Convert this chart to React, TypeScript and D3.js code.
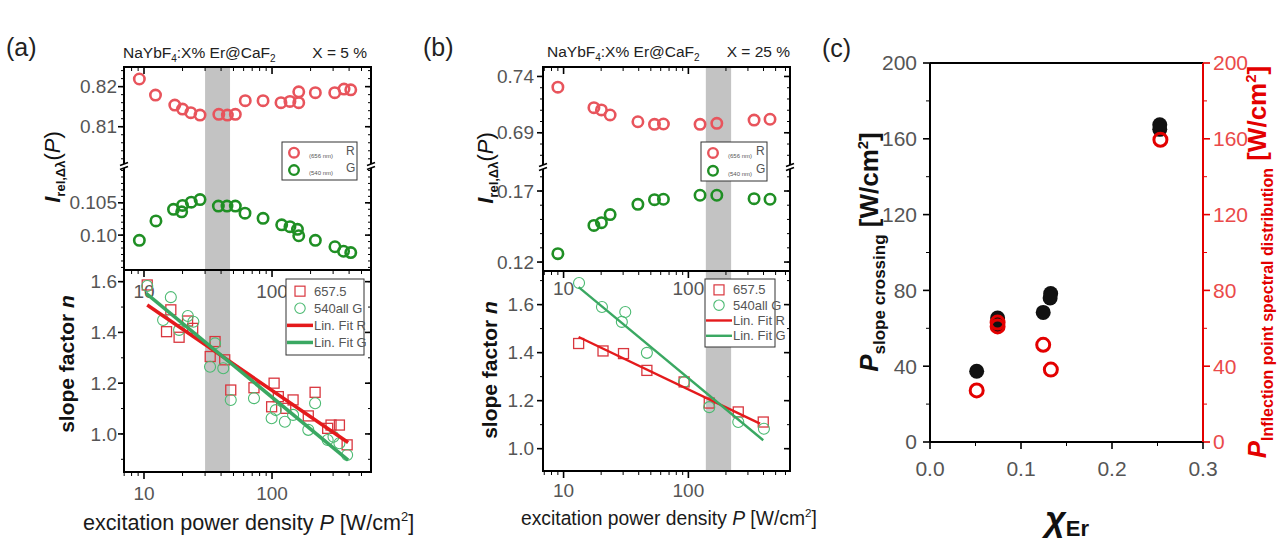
import React from "react";
import * as d3 from "d3";

const NARROW = "'Liberation Sans Narrow','Arial Narrow','Liberation Sans',Arial,sans-serif";
const SANS = "'Liberation Sans',Arial,sans-serif";

// ---------------- Panel (a): X = 5 % ----------------
const aRedTopP = [9.2, 12.3, 17.4, 20.0, 23.2, 27.4, 38.4, 44.8, 51.7, 61.8, 85.1, 117.5, 138, 161.7, 161.7, 218, 309, 365, 412];
const aRedTopI = [0.8219, 0.8179, 0.8154, 0.8144, 0.8135, 0.8129, 0.8131, 0.8129, 0.8131, 0.8165, 0.8165, 0.816, 0.8163, 0.8187, 0.816, 0.8185, 0.8185, 0.8194, 0.8192];
const aGreenTopP = [9.2, 12.4, 17.0, 19.7, 20.0, 23.4, 27.4, 38.1, 44.5, 51.7, 61.5, 85.1, 119, 138, 158, 161.7, 218, 310, 362, 412];
const aGreenTopI = [0.0992, 0.1022, 0.104, 0.1036, 0.1046, 0.1051, 0.1055, 0.1045, 0.1045, 0.1045, 0.1034, 0.1026, 0.1016, 0.1013, 0.1009, 0.0999, 0.0992, 0.0982, 0.0975, 0.0973];
const aRedBotP = [10.6, 15.0, 16.2, 18.8, 21.9, 24.0, 32.9, 35.9, 42.7, 47.6, 72.3, 99.3, 103.8, 112, 128, 146, 192, 217, 272, 289, 336, 386];
const aRedBotN = [1.587, 1.403, 1.489, 1.381, 1.445, 1.416, 1.305, 1.364, 1.292, 1.173, 1.182, 1.107, 1.2, 1.147, 1.101, 1.134, 1.071, 1.164, 1.022, 1.035, 1.035, 0.957];
const aGreenBotP = [10.6, 14.1, 16.2, 18.8, 22.0, 24.3, 32.8, 35.9, 41.6, 47.6, 72.3, 99.3, 107, 126, 146, 192, 217, 272, 302, 336, 386];
const aGreenBotN = [1.583, 1.449, 1.539, 1.41, 1.465, 1.442, 1.265, 1.357, 1.259, 1.134, 1.141, 1.062, 1.094, 1.048, 1.075, 1.016, 1.121, 0.976, 0.989, 0.963, 0.917];
const aFitR: [number, number][] = [[10.6, 1.508], [393, 0.966]];
const aFitG: [number, number][] = [[10.4, 1.554], [393, 0.897]];
const aBand = [30, 47];
const aUpperTicks = ["0.81", "0.82"];
const aLowerTicks = ["0.10", "0.105"];
const aBottomTicks = ["1.0", "1.2", "1.4", "1.6"];

// ---------------- Panel (b): X = 25 % ----------------
const bTopP = [9.0, 17.5, 20.1, 23.6, 39.4, 53.5, 63.1, 124, 169, 336, 451];
const bRedTopI = [0.7305, 0.7123, 0.7103, 0.7058, 0.6998, 0.6975, 0.6978, 0.6975, 0.6984, 0.7013, 0.702];
const bGreenTopI = [0.1259, 0.1458, 0.1477, 0.1534, 0.1606, 0.1639, 0.1642, 0.167, 0.167, 0.1646, 0.1642];
const bRedBotP = [13.2, 20.7, 30.2, 46.5, 92.4, 147, 251, 398];
const bRedBotN = [1.438, 1.407, 1.396, 1.326, 1.278, 1.19, 1.153, 1.111];
const bGreenBotP = [13.3, 20.3, 31.2, 29.3, 46.5, 92.4, 147, 251, 403];
const bGreenBotN = [1.69, 1.59, 1.569, 1.528, 1.399, 1.278, 1.173, 1.111, 1.083];
const bFitR: [number, number][] = [[13.2, 1.465], [375, 1.104]];
const bFitG: [number, number][] = [[13.2, 1.673], [398, 1.035]];
const bBand = [138, 220];
const bUpperTicks = ["0.69", "0.74"];
const bLowerTicks = ["0.12", "0.17"];
const bBottomTicks = ["1.0", "1.2", "1.4", "1.6"];

const xTickLabels = ["10", "100"];

// ---------------- Panel (c) ----------------
const cChiSlope = [0.0513, 0.0743, 0.0743, 0.1244, 0.1326, 0.132, 0.2525, 0.2525];
const cPSlope = [37.3, 65.4, 61.9, 68.4, 78.3, 76, 167.4, 165];
const cChiInfl = [0.0513, 0.0743, 0.0743, 0.1244, 0.1328, 0.2532];
const cPInfl = [27.2, 61, 63, 51.3, 38.2, 159.5];
const cXTicks = ["0.0", "0.1", "0.2", "0.3"];
const cYTicks = ["0", "40", "80", "120", "160", "200"];

const RED_TOP = "#e8545c";
const GREEN_TOP = "#1f8f24";
const RED_BOT = "#d9363e";
const GREEN_BOT = "#4cba72";
const FIT_R = "#e41a1c";
const FIT_G = "#3aa862";
const TICK_TXT = "#555";

function logTicks(domain: number[]) {
  const out: number[] = [];
  for (let e = 0; e < 4; e++)
    for (let m = 1; m < 10; m++) {
      const v = m * Math.pow(10, e);
      if (v >= domain[0] && v <= domain[1]) out.push(v);
    }
  return out;
}

function linMinor(domain: number[], step: number) {
  const out: number[] = [];
  const start = Math.ceil(domain[0] / step - 1e-9);
  for (let k = start; k * step <= domain[1] + 1e-9; k++) out.push(k * step);
  return out;
}

type PanelCfg = {
  frame: { l: number; r: number; t: number; brk: number; mid: number; b: number };
  xDomain: number[];
  upper: { domain: number[]; ticks: string[]; minor: number };
  lower: { domain: number[]; ticks: string[]; minor: number };
  bottom: { domain: number[]; ticks: string[]; minor: number };
  band: number[];
  redTop: { p: number[]; v: number[] };
  greenTop: { p: number[]; v: number[] };
  redBot: { p: number[]; v: number[] };
  greenBot: { p: number[]; v: number[] };
  fitR: [number, number][];
  fitG: [number, number][];
  fitW: number;
  legTop: { x: number; y: number; w: number; h: number };
  legBot: { x: number; y: number; w: number; h: number };
  title: { x: number; y: number; xr: number; X: string };
  letter: { x: number; y: number; s: string };
  yLabTop: { x: number; y: number };
  yLabBot: { x: number; y: number };
  xLab: { x0: number; y: number; size: number };
  tickLabelX: number;
  xLabY: number;
  innerLabY: number;
};

function YAxisTicks({ scale, ticks, minor, domain, l, r, lbl }: any) {
  const minors = linMinor(domain, minor);
  return (
    <g>
      {minors.map((v: number, i: number) => (
        <g key={"m" + i}>
          <line x1={l - 3} x2={l} y1={scale(v)} y2={scale(v)} stroke="#000" strokeWidth={1} />
          <line x1={r - 3} x2={r} y1={scale(v)} y2={scale(v)} stroke="#000" strokeWidth={1} />
        </g>
      ))}
      {ticks.map((t: string, i: number) => (
        <g key={"M" + i}>
          <line x1={l - 6} x2={l} y1={scale(+t)} y2={scale(+t)} stroke="#000" strokeWidth={1.6} />
          <line x1={r - 6} x2={r} y1={scale(+t)} y2={scale(+t)} stroke="#000" strokeWidth={1.6} />
          <text x={lbl} y={scale(+t)} dy="0.35em" textAnchor="end" fontFamily={NARROW} fontSize={19} fill={TICK_TXT}>
            {t}
          </text>
        </g>
      ))}
    </g>
  );
}

function BreakMark({ x, y }: { x: number; y: number }) {
  return (
    <g>
      <rect x={x - 4} y={y - 2} width={8} height={4} fill="#fff" />
      <line x1={x - 4} y1={y - 0.5} x2={x + 4} y2={y - 3.5} stroke="#000" strokeWidth={1.4} />
      <line x1={x - 4} y1={y + 3.5} x2={x + 4} y2={y + 0.5} stroke="#000" strokeWidth={1.4} />
    </g>
  );
}

function Panel({ c }: { c: PanelCfg }) {
  const f = c.frame;
  const x = d3.scaleLog().domain(c.xDomain).range([f.l, f.r]);
  const yU = d3.scaleLinear().domain(c.upper.domain).range([f.brk, f.t]);
  const yL = d3.scaleLinear().domain(c.lower.domain).range([f.mid, f.brk]);
  const yB = d3.scaleLinear().domain(c.bottom.domain).range([f.b, f.mid]);
  const xMin = logTicks(c.xDomain);
  const fit = d3
    .line<[number, number]>()
    .x((d) => x(d[0]))
    .y((d) => yB(d[1]));
  const lt = c.legTop;
  const lb = c.legBot;
  const sq = 10;
  return (
    <g>
      <rect x={x(c.band[0])} y={f.t} width={x(c.band[1]) - x(c.band[0])} height={f.b - f.t} fill="#c3c3c3" />
      {/* x minor / major ticks */}
      {xMin.map((v, i) => {
        const major = xTickLabels.includes(String(v));
        const len = major ? 7 : 4;
        return (
          <g key={"x" + i}>
            <line x1={x(v)} x2={x(v)} y1={f.b} y2={f.b + len} stroke="#000" strokeWidth={major ? 1.6 : 1} />
            <line x1={x(v)} x2={x(v)} y1={f.mid} y2={f.mid + len} stroke="#000" strokeWidth={major ? 1.6 : 1} />
            <line x1={x(v)} x2={x(v)} y1={f.t} y2={f.t + len} stroke="#000" strokeWidth={major ? 1.6 : 1} />
          </g>
        );
      })}
      {xTickLabels.map((t) => (
        <g key={"xl" + t}>
          <text x={x(+t)} y={c.xLabY} dy="0.35em" textAnchor="middle" fontFamily={NARROW} fontSize={19} fill={TICK_TXT}>
            {t}
          </text>
          <text x={x(+t)} y={c.innerLabY} dy="0.35em" textAnchor="middle" fontFamily={NARROW} fontSize={19} fill={TICK_TXT}>
            {t}
          </text>
        </g>
      ))}
      <YAxisTicks scale={yU} ticks={c.upper.ticks} minor={c.upper.minor} domain={c.upper.domain} l={f.l} r={f.r} lbl={c.tickLabelX} />
      <YAxisTicks scale={yL} ticks={c.lower.ticks} minor={c.lower.minor} domain={c.lower.domain} l={f.l} r={f.r} lbl={c.tickLabelX} />
      <YAxisTicks scale={yB} ticks={c.bottom.ticks} minor={c.bottom.minor} domain={c.bottom.domain} l={f.l} r={f.r} lbl={c.tickLabelX} />

      {/* top markers */}
      {c.redTop.p.map((p, i) => (
        <circle key={"rt" + i} cx={x(p)} cy={yU(c.redTop.v[i])} r={5.2} fill="none" stroke={RED_TOP} strokeWidth={2.6} />
      ))}
      {c.greenTop.p.map((p, i) => (
        <circle key={"gt" + i} cx={x(p)} cy={yL(c.greenTop.v[i])} r={5.2} fill="none" stroke={GREEN_TOP} strokeWidth={2.6} />
      ))}
      {/* bottom markers */}
      {c.redBot.p.map((p, i) => (
        <rect key={"rb" + i} x={x(p) - sq / 2} y={yB(c.redBot.v[i]) - sq / 2} width={sq} height={sq} fill="none" stroke={RED_BOT} strokeWidth={1.3} />
      ))}
      {c.greenBot.p.map((p, i) => (
        <circle key={"gb" + i} cx={x(p)} cy={yB(c.greenBot.v[i])} r={5.5} fill="none" stroke={GREEN_BOT} strokeWidth={1.1} />
      ))}
      <path d={fit(c.fitR) || ""} stroke={FIT_R} strokeWidth={c.fitW} fill="none" />
      <path d={fit(c.fitG) || ""} stroke={FIT_G} strokeWidth={c.fitW} fill="none" />

      {/* frames */}
      <rect x={f.l} y={f.t} width={f.r - f.l} height={f.b - f.t} fill="none" stroke="#000" strokeWidth={2} />
      <line x1={f.l} x2={f.r} y1={f.mid} y2={f.mid} stroke="#000" strokeWidth={2} />
      <BreakMark x={f.l} y={f.brk} />
      <BreakMark x={f.r} y={f.brk} />

      {/* legend top */}
      <rect x={lt.x} y={lt.y} width={lt.w} height={lt.h} fill="#fff" stroke="#333" strokeWidth={1} />
      <circle cx={lt.x + 12} cy={lt.y + lt.h * 0.28} r={4.8} fill="none" stroke={RED_TOP} strokeWidth={2.4} />
      <circle cx={lt.x + 12} cy={lt.y + lt.h * 0.74} r={4.8} fill="none" stroke={GREEN_TOP} strokeWidth={2.4} />
      <text x={lt.x + 27} y={lt.y + lt.h * 0.28 + 5} fontFamily={NARROW} fontSize={6} fill="#555">(656 nm)</text>
      <text x={lt.x + 27} y={lt.y + lt.h * 0.74 + 5} fontFamily={NARROW} fontSize={6} fill="#555">(540 nm)</text>
      <text x={lt.x + lt.w - 11} y={lt.y + lt.h * 0.28 + 2} fontFamily={NARROW} fontSize={12} fill="#555">R</text>
      <text x={lt.x + lt.w - 11} y={lt.y + lt.h * 0.74 + 2} fontFamily={NARROW} fontSize={12} fill="#555">G</text>

      {/* legend bottom */}
      <rect x={lb.x} y={lb.y} width={lb.w} height={lb.h} fill="#fff" stroke="#333" strokeWidth={1} />
      {[
        { k: "s", label: "657.5" },
        { k: "c", label: "540all G" },
        { k: "lr", label: "Lin. Fit R" },
        { k: "lg", label: "Lin. Fit G" },
      ].map((e, i) => {
        const yy = lb.y + lb.h * (0.16 + 0.225 * i);
        const cx = lb.x + 14;
        return (
          <g key={e.k}>
            {e.k === "s" && <rect x={cx - 5} y={yy - 5} width={10} height={10} fill="none" stroke={RED_BOT} strokeWidth={1.2} />}
            {e.k === "c" && <circle cx={cx} cy={yy} r={5.2} fill="none" stroke={GREEN_BOT} strokeWidth={1.1} />}
            {e.k === "lr" && <line x1={lb.x + 1} x2={lb.x + 27} y1={yy} y2={yy} stroke={FIT_R} strokeWidth={c.fitW} />}
            {e.k === "lg" && <line x1={lb.x + 1} x2={lb.x + 27} y1={yy} y2={yy} stroke={FIT_G} strokeWidth={c.fitW} />}
            <text x={lb.x + 28} y={yy} dy="0.35em" fontFamily={NARROW} fontSize={13} fill="#555">
              {e.label}
            </text>
          </g>
        );
      })}

      {/* title */}
      <text x={c.title.x} y={c.title.y} fontFamily={NARROW} fontSize={15.5} fill="#222">
        NaYbF<tspan fontSize={10} dy={4}>4</tspan>
        <tspan dy={-4}>:X% Er@CaF</tspan>
        <tspan fontSize={10} dy={4}>2</tspan>
      </text>
      <text x={c.title.xr} y={c.title.y} textAnchor="end" fontFamily={NARROW} fontSize={15.5} fill="#222">
        {c.title.X}
      </text>
      <text x={c.letter.x} y={c.letter.y} fontFamily={SANS} fontSize={25} fill="#222">
        {c.letter.s}
      </text>

      {/* axis labels */}
      <text transform={`translate(${c.yLabTop.x},${c.yLabTop.y}) rotate(-90)`} textAnchor="middle" fontFamily={SANS} fontSize={22} fill="#111">
        <tspan fontStyle="italic" fontWeight="bold">I</tspan>
        <tspan fontSize={13} dy={5} fontWeight="bold">rel,Δλ</tspan>
        <tspan dy={-5}>(</tspan>
        <tspan fontStyle="italic">P</tspan>
        <tspan>)</tspan>
      </text>
      <text transform={`translate(${c.yLabBot.x},${c.yLabBot.y}) rotate(-90)`} textAnchor="middle" fontFamily={SANS} fontSize={21} fontWeight="bold" fill="#111">
        slope factor <tspan fontStyle="italic">n</tspan>
      </text>
      <text x={c.xLab.x0} y={c.xLab.y} fontFamily={NARROW} fontSize={c.xLab.size} fill="#1a1a1a">
        excitation power density <tspan fontStyle="italic">P</tspan> [W/cm
        <tspan fontSize={c.xLab.size * 0.6} dy={-c.xLab.size * 0.4}>2</tspan>
        <tspan dy={c.xLab.size * 0.4}>]</tspan>
      </text>
    </g>
  );
}

const panelA: PanelCfg = {
  frame: { l: 124, r: 371, t: 67, brk: 166, mid: 270, b: 472 },
  xDomain: [6.98, 593],
  upper: { domain: [0.8002, 0.8249], ticks: aUpperTicks, minor: 0.002 },
  lower: { domain: [0.0946, 0.1107], ticks: aLowerTicks, minor: 0.001 },
  bottom: { domain: [0.85, 1.646], ticks: aBottomTicks, minor: 0.1 },
  band: aBand,
  redTop: { p: aRedTopP, v: aRedTopI },
  greenTop: { p: aGreenTopP, v: aGreenTopI },
  redBot: { p: aRedBotP, v: aRedBotN },
  greenBot: { p: aGreenBotP, v: aGreenBotN },
  fitR: aFitR,
  fitG: aFitG,
  fitW: 3.5,
  legTop: { x: 282, y: 142, w: 75, h: 38 },
  legBot: { x: 286, y: 279, w: 78, h: 76 },
  title: { x: 123, y: 58, xr: 367, X: "X = 5 %" },
  letter: { x: 6, y: 56, s: "(a)" },
  yLabTop: { x: 60, y: 167 },
  yLabBot: { x: 74, y: 364 },
  xLab: { x0: 83, y: 530, size: 21.6 },
  tickLabelX: 117,
  xLabY: 493,
  innerLabY: 291,
};

const panelB: PanelCfg = {
  frame: { l: 543, r: 790, t: 67, brk: 167, mid: 271, b: 471 },
  xDomain: [6.84, 652],
  upper: { domain: [0.6596, 0.7484], ticks: bUpperTicks, minor: 0.01 },
  lower: { domain: [0.1137, 0.1869], ticks: bLowerTicks, minor: 0.01 },
  bottom: { domain: [0.907, 1.74], ticks: bBottomTicks, minor: 0.1 },
  band: bBand,
  redTop: { p: bTopP, v: bRedTopI },
  greenTop: { p: bTopP, v: bGreenTopI },
  redBot: { p: bRedBotP, v: bRedBotN },
  greenBot: { p: bGreenBotP, v: bGreenBotN },
  fitR: bFitR,
  fitG: bFitG,
  fitW: 2.4,
  legTop: { x: 701, y: 142, w: 66, h: 39 },
  legBot: { x: 705, y: 279, w: 70, h: 68 },
  title: { x: 547, y: 57, xr: 790, X: "X = 25 %" },
  letter: { x: 423, y: 56, s: "(b)" },
  yLabTop: { x: 493, y: 168 },
  yLabBot: { x: 497, y: 370 },
  xLab: { x0: 521, y: 525, size: 19.3 },
  tickLabelX: 534,
  xLabY: 490,
  innerLabY: 288,
};

function PanelC() {
  const l = 930,
    r = 1203,
    t = 63,
    b = 442;
  const x = d3.scaleLinear().domain([0, 0.3]).range([l, r]);
  const y = d3.scaleLinear().domain([0, 200]).range([b, t]);
  const xMinor = d3.range(0.05, 0.3, 0.1);
  const yMinor = d3.range(20, 200, 40);
  const RED = "#e30000";
  return (
    <g>
      {/* ticks */}
      {cYTicks.map((tk) => (
        <g key={"y" + tk}>
          <line x1={l - 7} x2={l} y1={y(+tk)} y2={y(+tk)} stroke="#000" strokeWidth={1.6} />
          <line x1={r} x2={r + 7} y1={y(+tk)} y2={y(+tk)} stroke={RED} strokeWidth={1.6} />
          <text x={l - 13} y={y(+tk)} dy="0.35em" textAnchor="end" fontFamily={NARROW} fontSize={21} fill={TICK_TXT}>
            {tk}
          </text>
          <text x={r + 10} y={y(+tk)} dy="0.35em" textAnchor="start" fontFamily={NARROW} fontSize={21} fill="#ea4a4a">
            {tk}
          </text>
        </g>
      ))}
      {yMinor.map((v, i) => (
        <g key={"ym" + i}>
          <line x1={l - 4} x2={l} y1={y(v)} y2={y(v)} stroke="#000" strokeWidth={1} />
          <line x1={r} x2={r + 4} y1={y(v)} y2={y(v)} stroke={RED} strokeWidth={1} />
        </g>
      ))}
      {cXTicks.map((tk) => (
        <g key={"x" + tk}>
          <line x1={x(+tk)} x2={x(+tk)} y1={b} y2={b + 7} stroke="#000" strokeWidth={1.6} />
          <text x={x(+tk)} y={b + 27} dy="0.35em" textAnchor="middle" fontFamily={NARROW} fontSize={21} fill={TICK_TXT}>
            {tk}
          </text>
        </g>
      ))}
      {xMinor.map((v, i) => (
        <line key={"xm" + i} x1={x(v)} x2={x(v)} y1={b} y2={b + 4} stroke="#000" strokeWidth={1} />
      ))}
      {/* axes */}
      <line x1={l} x2={r} y1={t} y2={t} stroke="#000" strokeWidth={2} />
      <line x1={l} x2={r} y1={b} y2={b} stroke="#000" strokeWidth={2} />
      <line x1={l} x2={l} y1={t} y2={b} stroke="#000" strokeWidth={2} />
      <line x1={r} x2={r} y1={t} y2={b} stroke={RED} strokeWidth={2} />
      {/* points */}
      {cChiSlope.map((c, i) => (
        <circle key={"k" + i} cx={x(c)} cy={y(cPSlope[i])} r={7.5} fill="#111" />
      ))}
      {cChiInfl.map((c, i) => (
        <circle key={"o" + i} cx={x(c)} cy={y(cPInfl[i])} r={6.5} fill="none" stroke={RED} strokeWidth={3} />
      ))}
      {/* labels */}
      <text x={822} y={57} fontFamily={SANS} fontSize={25} fill="#222">
        (c)
      </text>
      <text transform="translate(878,252) rotate(-90)" textAnchor="middle" fontFamily={SANS} fontWeight="bold" fontSize={26} fill="#111">
        <tspan fontStyle="italic">P</tspan>
        <tspan fontSize={17} dy={7}>slope crossing</tspan>
        <tspan dy={-7}> [W/cm</tspan>
        <tspan fontSize={15} dy={-10}>2</tspan>
        <tspan dy={10}>]</tspan>
      </text>
      <text transform="translate(1266,262) rotate(-90)" textAnchor="middle" fontFamily={SANS} fontWeight="bold" fontSize={26} fill={RED}>
        <tspan fontStyle="italic">P</tspan>
        <tspan fontSize={16} dy={7}>Inflection point spectral distribution</tspan>
        <tspan dy={-7}> [W/cm</tspan>
        <tspan fontSize={15} dy={-10}>2</tspan>
        <tspan dy={10}>]</tspan>
      </text>
      <text x={1067} y={531} textAnchor="middle" fill="#111">
        <tspan fontFamily={SANS} fontSize={36} fontStyle="italic" fontWeight="bold">χ</tspan>
        <tspan fontFamily={NARROW} fontSize={22} fontWeight="bold" dy={5}>Er</tspan>
      </text>
    </g>
  );
}

export default function App() {
  return (
    <svg
      width={1283}
      height={546}
      viewBox="0 0 1283 546"
      style={{ position: "absolute", left: 0, top: 0, background: "#fff" }}
    >
      <rect width={1283} height={546} fill="#fff" />
      <Panel c={panelA} />
      <Panel c={panelB} />
      <PanelC />
    </svg>
  );
}
